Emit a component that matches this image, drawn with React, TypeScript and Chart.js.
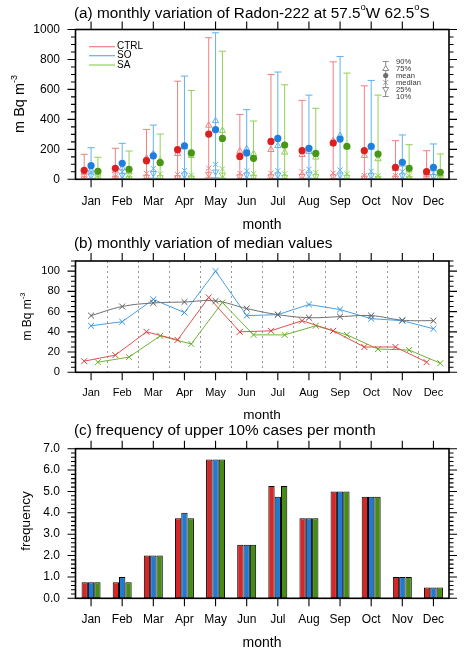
import React, { useEffect, useRef } from "react";
import { Chart, registerables } from "chart.js";
Chart.register(...registerables);

// ---------------- data ----------------
const months = ["Jan", "Feb", "Mar", "Apr", "May", "Jun", "Jul", "Aug", "Sep", "Oct", "Nov", "Dec"];

// (a) percentiles and means, m Bq m-3
const ctrlP90 = [167, 207, 333, 655, 945, 433, 700, 527, 784, 624, 258, 191];
const ctrlP75 = [45, 55, 140, 171, 360, 187, 198, 164, 258, 158, 70, 40];
const ctrlMean = [60, 73, 124, 198, 302, 153, 253, 191, 242, 191, 80, 51];
const ctrlP25 = [5, 8, 15, 12, 35, 18, 18, 20, 18, 10, 10, 5];
const ctrlP10 = [2, 3, 5, 4, 10, 5, 6, 6, 5, 3, 3, 2];

const soP90 = [211, 240, 362, 689, 978, 465, 716, 562, 820, 660, 296, 236];
const soP75 = [60, 75, 170, 215, 390, 202, 224, 185, 291, 213, 100, 70];
const soMean = [91, 107, 156, 224, 331, 176, 273, 207, 269, 220, 113, 80];
const soP25 = [25, 28, 40, 30, 50, 30, 30, 35, 30, 25, 25, 20];
const soP10 = [5, 6, 8, 6, 10, 6, 6, 8, 6, 5, 5, 4];

const saP90 = [147, 189, 302, 593, 855, 389, 631, 474, 709, 562, 231, 169];
const saP75 = [40, 50, 124, 158, 325, 170, 180, 147, 215, 136, 60, 35];
const saMean = [53, 67, 111, 176, 273, 140, 229, 173, 220, 169, 73, 47];
const saP25 = [4, 6, 12, 10, 30, 15, 15, 18, 15, 8, 8, 4];
const saP10 = [1, 2, 4, 3, 8, 4, 4, 5, 4, 2, 2, 1];

// (b) medians
const ctrlMedian = [11, 17, 40, 32, 74, 40, 41, 51, 41, 25, 25, 10];
const soMedian = [46, 50, 72, 59, 100, 56, 57, 67, 62, 53, 51, 43];
const saMedian = [10, 15, 36, 28, 69, 37, 37, 46, 37, 23, 22, 9];
const obsMedian = [56, 65, 68.5, 69.5, 70.5, 63, 57, 54, 55, 56, 51.5, 51];

// (c) frequency of upper 10% cases
const freqCtrl = [0.75, 0.75, 2, 3.75, 6.5, 2.5, 5.25, 3.75, 5, 4.75, 1, 0.5];
const freqSo = [0.75, 1, 2, 4, 6.5, 2.5, 4.75, 3.75, 5, 4.75, 1, 0.5];
const freqSa = [0.75, 0.75, 2, 3.75, 6.5, 2.5, 5.25, 3.75, 5, 4.75, 1, 0.5];

// ---------------- layout / style ----------------
const W = 469;
const H = 657;
const FONT = "'Liberation Sans', Arial, Helvetica, sans-serif";
const FRAME_L = 75.5;
const FRAME_R = 449;
const X_AXIS_H = 40;
const OFF = 0.22;
const TITLE_SIZE = 15.3;

const RED = "rgb(220,32,32)";
const RED_L = "rgb(240,128,128)";
const BLUE = "rgb(30,128,220)";
const BLUE_L = "rgb(96,178,238)";
const GREEN = "rgb(72,150,22)";
const GREEN_L = "rgb(146,208,86)";
const GRAY = "rgb(140,140,140)";

type Part = [string, boolean?];

function partsWidth(ctx: CanvasRenderingContext2D, parts: Part[], size: number) {
  let w = 0;
  for (const [t, sup] of parts) {
    ctx.font = `${sup ? size * 0.62 : size}px ${FONT}`;
    w += ctx.measureText(t).width;
  }
  return w;
}

function drawParts(ctx: CanvasRenderingContext2D, parts: Part[], x: number, y: number, size: number, align: "left" | "center", color = "#000") {
  const total = partsWidth(ctx, parts, size);
  let cx = align === "center" ? x - total / 2 : x;
  ctx.textBaseline = "middle";
  ctx.textAlign = "left";
  ctx.fillStyle = color;
  for (const [t, sup] of parts) {
    const s = sup ? size * 0.62 : size;
    ctx.font = `${s}px ${FONT}`;
    ctx.fillText(t, cx, sup ? y - size * 0.4 : y);
    cx += ctx.measureText(t).width;
  }
}

function drawRotated(ctx: CanvasRenderingContext2D, parts: Part[], cx: number, cy: number, size: number) {
  ctx.save();
  ctx.translate(cx, cy);
  ctx.rotate(-Math.PI / 2);
  drawParts(ctx, parts, 0, 0, size, "center");
  ctx.restore();
}

function drawFrame(chart: any, minorStep: number, majorStep: number) {
  const { ctx, chartArea: a, scales } = chart;
  const x = scales.x;
  const y = scales.y;
  ctx.save();
  ctx.strokeStyle = "#000";
  ctx.lineWidth = 1.1;
  ctx.beginPath();
  for (let i = 0; i < x.ticks.length; i++) {
    const px = x.getPixelForTick(i);
    ctx.moveTo(px, a.bottom);
    ctx.lineTo(px, a.bottom + 8);
    ctx.moveTo(px, a.top);
    ctx.lineTo(px, a.top - 8);
  }
  const n = Math.floor((y.max - y.min) / minorStep + 1e-6);
  for (let i = 0; i <= n; i++) {
    const v = y.min + i * minorStep;
    const r = v / majorStep;
    const major = Math.abs(r - Math.round(r)) < 1e-6;
    const len = major ? 8 : 4.5;
    const py = y.getPixelForValue(v);
    ctx.moveTo(a.left, py);
    ctx.lineTo(a.left - len, py);
    ctx.moveTo(a.right, py);
    ctx.lineTo(a.right + len, py);
  }
  ctx.stroke();
  ctx.lineWidth = 1.6;
  ctx.strokeRect(a.left, a.top, a.right - a.left, a.bottom - a.top);
  ctx.restore();
}

function yScale(min: number, max: number, step: number, fmt: (v: number) => string, size: number) {
  return {
    type: "linear",
    position: "left",
    min,
    max,
    afterBuildTicks: (s: any) => {
      const t: any[] = [];
      const n = Math.floor((max - min) / step + 1e-6);
      for (let i = 0; i <= n; i++) t.push({ value: min + i * step });
      s.ticks = t;
    },
    ticks: { color: "#000", font: { family: FONT, size }, padding: 15.5, callback: (v: any) => fmt(Number(v)) },
    grid: { display: false, drawTicks: false },
    border: { display: false },
    afterFit: (s: any) => {
      s.width = FRAME_L;
      s.paddingTop = 0;
      s.paddingBottom = 0;
      s.paddingLeft = 0;
      s.paddingRight = 0;
    },
  };
}

function xLinear(pad: number, size: number) {
  return {
    type: "linear",
    position: "bottom",
    min: 0.5,
    max: 12.5,
    afterBuildTicks: (s: any) => {
      s.ticks = months.map((_, i) => ({ value: i + 1 }));
    },
    ticks: {
      color: "#000",
      font: { family: FONT, size },
      padding: pad,
      autoSkip: false,
      maxRotation: 0,
      callback: (v: any) => months[Math.round(Number(v)) - 1] ?? "",
    },
    grid: { display: false, drawTicks: false },
    border: { display: false },
    afterFit: (s: any) => {
      s.height = X_AXIS_H;
      s.paddingLeft = 0;
      s.paddingRight = 0;
      s.paddingTop = 0;
      s.paddingBottom = 0;
    },
  };
}

function layoutFor(top: number, bottom: number) {
  return {
    autoPadding: false,
    padding: { left: 0, right: W - FRAME_R, top, bottom: H - bottom - X_AXIS_H },
  };
}

const baseOpts = {
  responsive: false,
  animation: false as const,
  events: [] as any[],
  plugins: { legend: { display: false }, tooltip: { enabled: false }, title: { display: false } },
};

// ---------------- panel (a) ----------------
function configA(): any {
  const series = [
    { dark: RED, light: RED_L, off: -OFF, p90: ctrlP90, p75: ctrlP75, mean: ctrlMean, med: ctrlMedian, p25: ctrlP25, p10: ctrlP10 },
    { dark: BLUE, light: BLUE_L, off: 0, p90: soP90, p75: soP75, mean: soMean, med: soMedian, p25: soP25, p10: soP10 },
    { dark: GREEN, light: GREEN_L, off: OFF, p90: saP90, p75: saP75, mean: saMean, med: saMedian, p25: saP25, p10: saP10 },
  ];
  const datasets: any[] = [];
  const pts = (arr: number[], off: number) => arr.map((v, i) => ({ x: i + 1 + off, y: v }));
  for (const s of series) {
    datasets.push({ type: "scatter", data: pts(s.mean, s.off), pointStyle: "circle", pointRadius: 3.6, backgroundColor: s.dark, borderColor: s.dark, borderWidth: 0, order: 0 });
    datasets.push({ type: "scatter", data: pts(s.p75, s.off), pointStyle: "triangle", pointRadius: 3.6, backgroundColor: "rgba(255,255,255,0)", borderColor: s.light, borderWidth: 1, order: 1 });
    datasets.push({ type: "scatter", data: pts(s.med, s.off), pointStyle: "crossRot", pointRadius: 3.6, borderColor: s.light, borderWidth: 1, order: 1 });
    datasets.push({ type: "scatter", data: pts(s.p25, s.off), pointStyle: "triangle", rotation: 180, pointRadius: 3.6, backgroundColor: "rgba(255,255,255,0)", borderColor: s.light, borderWidth: 1, order: 1 });
    datasets.push({ type: "scatter", data: [...pts(s.p90, s.off), ...pts(s.p10, s.off)], pointStyle: "line", pointRadius: 3.6, borderColor: s.light, borderWidth: 1, order: 2 });
    const whisk: any[] = [];
    months.forEach((_, i) => {
      const x = i + 1 + s.off;
      whisk.push({ x, y: s.p10[i] }, { x, y: s.p90[i] }, { x, y: null });
    });
    datasets.push({ type: "line", data: whisk, showLine: true, spanGaps: false, pointRadius: 0, borderColor: s.light, borderWidth: 1, fill: false, order: 3 });
  }
  return {
    type: "scatter",
    data: { datasets },
    options: {
      ...baseOpts,
      layout: layoutFor(29.5, 179.3),
      scales: {
        x: xLinear(15, 12),
        y: yScale(0, 1000, 200, (v) => String(v), 12),
      },
    },
    plugins: [
      {
        id: "decorA",
        afterDraw(chart: any) {
          const ctx = chart.ctx;
          drawFrame(chart, 50, 200);
          drawParts(ctx, [["(a) monthly variation of Radon-222 at 57.5"], ["o", true], ["W 62.5"], ["o", true], ["S"]], 74, 13.5, TITLE_SIZE, "left");
          drawParts(ctx, [["month"]], 262, 225, 14, "center");
          drawRotated(ctx, [["m Bq m"], ["-3", true]], 20, 104, 14.5);
          // series legend
          const leg: [string, string, number][] = [["CTRL", RED_L, 46.7], ["SO", BLUE_L, 55.7], ["SA", GREEN_L, 65]];
          ctx.save();
          ctx.lineWidth = 1.2;
          for (const [name, col, yy] of leg) {
            ctx.strokeStyle = col;
            ctx.beginPath();
            ctx.moveTo(89, yy);
            ctx.lineTo(115, yy);
            ctx.stroke();
            drawParts(ctx, [[name]], 117, yy, 10, "left");
          }
          // statistics key
          const kx = 385.7;
          const rows = [61.5, 68.5, 75.5, 82.5, 89.5, 96.5];
          const labels = ["90%", "75%", "mean", "median", "25%", "10%"];
          ctx.strokeStyle = GRAY;
          ctx.fillStyle = GRAY;
          ctx.lineWidth = 1;
          ctx.beginPath();
          ctx.moveTo(kx, rows[0]);
          ctx.lineTo(kx, rows[5]);
          ctx.moveTo(kx - 3, rows[0]);
          ctx.lineTo(kx + 3, rows[0]);
          ctx.moveTo(kx - 3, rows[5]);
          ctx.lineTo(kx + 3, rows[5]);
          ctx.stroke();
          ctx.fillStyle = "#fff";
          ctx.beginPath();
          ctx.moveTo(kx, rows[1] - 3);
          ctx.lineTo(kx + 3, rows[1] + 2);
          ctx.lineTo(kx - 3, rows[1] + 2);
          ctx.closePath();
          ctx.fill();
          ctx.stroke();
          ctx.beginPath();
          ctx.moveTo(kx, rows[4] + 3);
          ctx.lineTo(kx + 3, rows[4] - 2);
          ctx.lineTo(kx - 3, rows[4] - 2);
          ctx.closePath();
          ctx.fill();
          ctx.stroke();
          ctx.fillStyle = "rgb(110,110,110)";
          ctx.beginPath();
          ctx.arc(kx, rows[2], 2.6, 0, Math.PI * 2);
          ctx.fill();
          ctx.beginPath();
          ctx.moveTo(kx - 2.3, rows[3] - 2.3);
          ctx.lineTo(kx + 2.3, rows[3] + 2.3);
          ctx.moveTo(kx + 2.3, rows[3] - 2.3);
          ctx.lineTo(kx - 2.3, rows[3] + 2.3);
          ctx.stroke();
          ctx.restore();
          labels.forEach((t, i) => drawParts(ctx, [[t]], 396, rows[i], 7.6, "left", "#333"));
        },
      },
    ],
  };
}

// ---------------- panel (b) ----------------
function configB(): any {
  const pts = (arr: number[], off: number) => arr.map((v, i) => ({ x: i + 1 + off, y: v }));
  const ds = (arr: number[], off: number, line: string, mark: string, tension = 0) => ({
    data: pts(arr, off),
    borderColor: line,
    pointBorderColor: mark,
    backgroundColor: mark,
    borderWidth: 1,
    pointStyle: "crossRot",
    pointRadius: 4.2,
    pointBorderWidth: 1,
    tension,
    fill: false,
  });
  return {
    type: "line",
    data: {
      datasets: [
        ds(obsMedian, 0, "rgb(110,110,110)", "rgb(90,90,90)", 0.4),
        ds(soMedian, 0, "rgb(70,160,225)", "rgb(50,150,225)"),
        ds(ctrlMedian, -OFF, "rgb(225,80,80)", "rgb(220,60,60)"),
        ds(saMedian, OFF, "rgb(110,180,50)", "rgb(100,175,40)"),
      ],
    },
    options: {
      ...baseOpts,
      layout: layoutFor(261, 372.3),
      scales: {
        x: xLinear(13.8, 11),
        y: yScale(0, 110, 20, (v) => String(v), 11.2),
      },
    },
    plugins: [
      {
        id: "sepB",
        beforeDatasetsDraw(chart: any) {
          const { ctx, chartArea: a, scales } = chart;
          ctx.save();
          ctx.strokeStyle = "rgb(150,150,150)";
          ctx.lineWidth = 1;
          ctx.setLineDash([2, 3]);
          ctx.beginPath();
          for (let k = 1; k < 12; k++) {
            const px = Math.round(scales.x.getPixelForValue(k + 0.5)) + 0.5;
            ctx.moveTo(px, a.top);
            ctx.lineTo(px, a.bottom);
          }
          ctx.stroke();
          ctx.restore();
        },
      },
      {
        id: "decorB",
        afterDraw(chart: any) {
          const ctx = chart.ctx;
          drawFrame(chart, 5, 20);
          drawParts(ctx, [["(b) monthly variation of median values"]], 74, 243.5, TITLE_SIZE, "left");
          drawParts(ctx, [["month"]], 262, 415, 13.5, "center");
          drawRotated(ctx, [["m Bq m"], ["-3", true]], 28, 316.5, 12);
        },
      },
    ],
  };
}

// ---------------- panel (c) ----------------
function configC(): any {
  const bar = (arr: number[], col: string) => ({
    data: arr,
    backgroundColor: col,
    borderColor: "#000",
    borderWidth: 1,
    borderSkipped: false,
    categoryPercentage: 0.61,
    barPercentage: 1,
  });
  return {
    type: "bar",
    data: {
      labels: months,
      datasets: [bar(freqCtrl, "rgb(214,38,40)"), bar(freqSo, "rgb(32,122,212)"), bar(freqSa, "rgb(70,140,20)")],
    },
    options: {
      ...baseOpts,
      layout: layoutFor(448.7, 598.3),
      scales: {
        x: {
          type: "category",
          position: "bottom",
          offset: true,
          ticks: { color: "#000", font: { family: FONT, size: 12 }, padding: 14.5, autoSkip: false, maxRotation: 0 },
          grid: { display: false, drawTicks: false },
          border: { display: false },
          afterFit: (s: any) => {
            s.height = X_AXIS_H;
            s.paddingLeft = 0;
            s.paddingRight = 0;
            s.paddingTop = 0;
            s.paddingBottom = 0;
          },
        },
        y: yScale(0, 7, 1, (v) => v.toFixed(1), 12),
      },
    },
    plugins: [
      {
        id: "decorC",
        afterDraw(chart: any) {
          const ctx = chart.ctx;
          drawFrame(chart, 0.2, 1);
          drawParts(ctx, [["(c) frequency of upper 10% cases per month"]], 74, 431, TITLE_SIZE, "left");
          drawParts(ctx, [["month"]], 262, 643, 14, "center");
          drawRotated(ctx, [["frequency"]], 26, 521, 13.5);
        },
      },
    ],
  };
}

export default function App() {
  const refA = useRef<HTMLCanvasElement>(null);
  const refB = useRef<HTMLCanvasElement>(null);
  const refC = useRef<HTMLCanvasElement>(null);
  useEffect(() => {
    const charts = [
      new Chart(refA.current as HTMLCanvasElement, configA()),
      new Chart(refB.current as HTMLCanvasElement, configB()),
      new Chart(refC.current as HTMLCanvasElement, configC()),
    ];
    return () => charts.forEach((c) => c.destroy());
  }, []);
  const cs: React.CSSProperties = { position: "absolute", left: 0, top: 0, width: W, height: H };
  return (
    <div style={{ position: "absolute", left: 0, top: 0, width: W, height: H, background: "#fff", overflow: "hidden" }}>
      <canvas ref={refA} width={W} height={H} style={cs} />
      <canvas ref={refB} width={W} height={H} style={cs} />
      <canvas ref={refC} width={W} height={H} style={cs} />
    </div>
  );
}
